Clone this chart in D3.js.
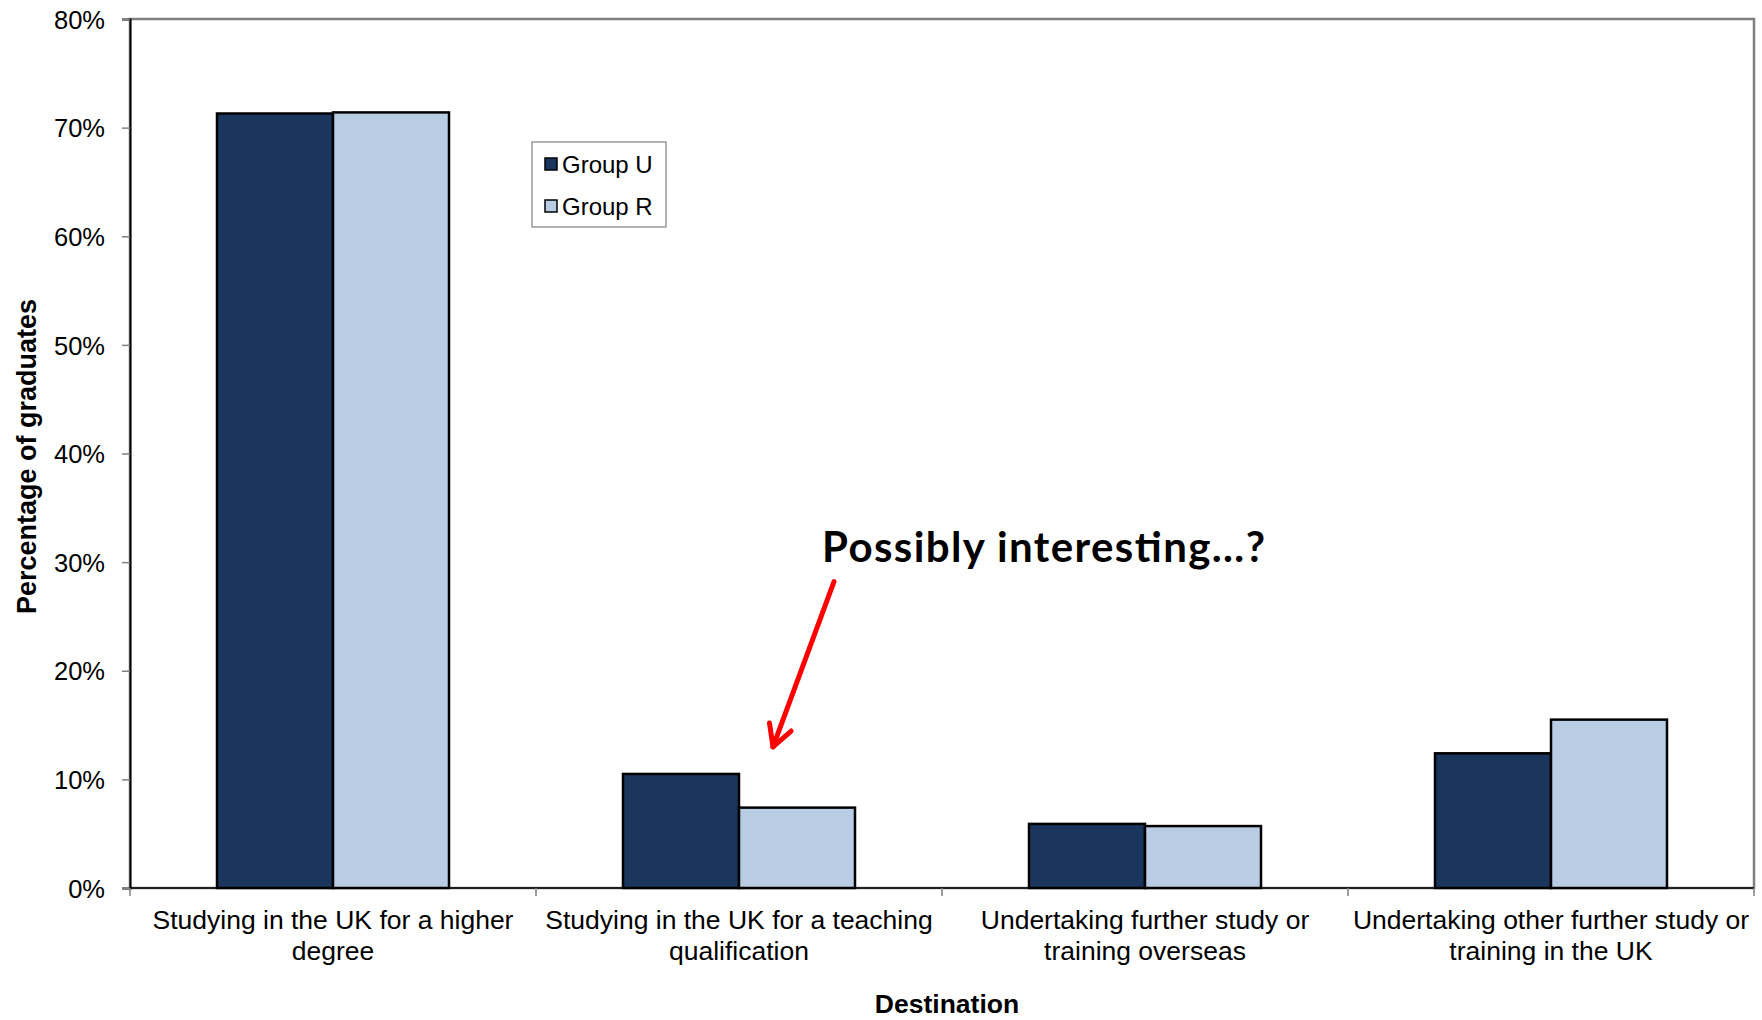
<!DOCTYPE html>
<html>
<head>
<meta charset="utf-8">
<script src="https://cdn.jsdelivr.net/npm/d3@7"></script>
<style>
  html, body { margin: 0; padding: 0; background: #fff; }
  svg { display: block; }
  text { font-family: "Liberation Sans", Arial, sans-serif; fill: #000; }
</style>
</head>
<body>
<svg id="chart" width="1762" height="1020"></svg>
<script>
// Graduate destinations, share of each group (fractions)
const categories = [
  "Studying in the UK for a higher degree",
  "Studying in the UK for a teaching qualification",
  "Undertaking further study or training overseas",
  "Undertaking other further study or training in the UK"
];
const categoryLines = [
  ["Studying in the UK for a higher", "degree"],
  ["Studying in the UK for a teaching", "qualification"],
  ["Undertaking further study or", "training overseas"],
  ["Undertaking other further study or", "training in the UK"]
];
const seriesNames = ["Group U", "Group R"];
const groupU = [0.713, 0.105, 0.059, 0.124];
const groupR = [0.714, 0.074, 0.057, 0.155];
const yTicks = [0, 0.1, 0.2, 0.3, 0.4, 0.5, 0.6, 0.7, 0.8];
const colors = ["#1A365C", "#B8CCE4"];

const svg = d3.select("#chart");
const margin = { left: 130, right: 8, top: 19, bottom: 132 };
const W = 1762, H = 1020;
const plotL = margin.left, plotR = W - margin.right;
const plotT = margin.top, plotB = H - margin.bottom;

const x0 = d3.scaleBand().domain(categories).range([plotL, plotR]).padding(0);
const x1 = d3.scaleBand().domain(seriesNames).range([0, x0.bandwidth()])
  .paddingInner(0).paddingOuter(0.75);
const y = d3.scaleLinear().domain([0, 0.8]).range([plotB, plotT]);

// Plot area frame
svg.append("rect")
  .attr("x", plotL).attr("y", plotT)
  .attr("width", plotR - plotL).attr("height", plotB - plotT)
  .attr("fill", "none").attr("stroke", "#808080").attr("stroke-width", 2.5);

// Bars
const rows = categories.map((c, i) => ({ cat: c, values: [groupU[i], groupR[i]] }));
const g = svg.append("g");
g.selectAll("g.cat").data(rows).join("g")
  .attr("class", "cat")
  .attr("transform", d => `translate(${x0(d.cat)},0)`)
  .selectAll("rect")
  .data(d => d.values.map((v, j) => ({ name: seriesNames[j], v, j })))
  .join("rect")
  .attr("x", d => x1(d.name))
  .attr("width", x1.bandwidth())
  .attr("y", d => y(d.v))
  .attr("height", d => y(0) - y(d.v))
  .attr("fill", d => colors[d.j])
  .attr("stroke", "#000").attr("stroke-width", 2.5);

// Y axis
const yAxis = d3.axisLeft(y).tickValues(yTicks).tickFormat(d3.format(".0%"))
  .tickSize(8).tickPadding(17);
const ya = svg.append("g").attr("transform", `translate(${plotL},0)`).call(yAxis);
ya.select(".domain").attr("stroke", "#000").attr("stroke-width", 2);
ya.selectAll(".tick line").attr("stroke", "#808080").attr("stroke-width", 1.5);
ya.selectAll(".tick text").style("font-size", "25.5px")
  .style("font-family", "'Liberation Sans', Arial, sans-serif").attr("dy", "0.36em");

// X axis with boundary ticks
const xa = svg.append("g").attr("transform", `translate(0,${plotB})`);
xa.append("line").attr("x1", plotL).attr("x2", plotR).attr("y1", 0).attr("y2", 0)
  .attr("stroke", "#000").attr("stroke-width", 1.5);
const boundaries = categories.map(c => x0(c)).concat([x0(categories[categories.length - 1]) + x0.bandwidth()]);
xa.selectAll("line.tk").data(boundaries).join("line").attr("class", "tk")
  .attr("x1", d => d).attr("x2", d => d).attr("y1", 0).attr("y2", 8)
  .attr("stroke", "#808080").attr("stroke-width", 1.5);
xa.selectAll("text.cl").data(categories).join("text").attr("class", "cl")
  .attr("text-anchor", "middle")
  .style("font-size", "26.5px")
  .each(function(d, i) {
    const t = d3.select(this);
    categoryLines[i].forEach((line, k) => {
      t.append("tspan").attr("x", x0(d) + x0.bandwidth() / 2)
        .attr("y", 41 + k * 31).text(line);
    });
  });

// Axis titles
svg.append("text")
  .attr("x", (plotL + plotR) / 2 + 5).attr("y", 1013)
  .attr("text-anchor", "middle")
  .style("font-size", "26.5px").style("font-weight", "bold")
  .text("Destination");
svg.append("text")
  .attr("transform", `translate(36,${(plotT + plotB) / 2 + 3}) rotate(-90)`)
  .attr("text-anchor", "middle")
  .style("font-size", "27px").style("font-weight", "bold")
  .text("Percentage of graduates");

// Legend
const leg = svg.append("g").attr("transform", "translate(532,142)");
leg.append("rect").attr("width", 134).attr("height", 85)
  .attr("fill", "#fff").attr("stroke", "#808080").attr("stroke-width", 1.2);
seriesNames.forEach((name, i) => {
  const row = leg.append("g").attr("transform", `translate(13,${22 + i * 42})`);
  row.append("rect").attr("x", 0).attr("y", -6).attr("width", 12).attr("height", 12)
    .attr("fill", colors[i]).attr("stroke", "#000").attr("stroke-width", 1.5);
  row.append("text").attr("x", 17).attr("y", 0).attr("dy", "0.36em")
    .style("font-size", "24px").text(name);
});

// Annotation with arrow toward the teaching-qualification pair
const ann = svg.append("g");
const tipX = x0(categories[1]) + x0.bandwidth() / 2 + 34;
const tipY = y(0.13);
const tailX = tipX + 61, tailY = y(0.282);
ann.append("line").attr("x1", tailX).attr("y1", tailY).attr("x2", tipX).attr("y2", tipY)
  .attr("stroke", "#FF0000").attr("stroke-width", 5).attr("stroke-linecap", "round");
const ang = Math.atan2(tipY - tailY, tipX - tailX);
[0.5, -0.5].forEach(da => {
  const a = ang + Math.PI + da;
  ann.append("line")
    .attr("x1", tipX).attr("y1", tipY)
    .attr("x2", tipX + 24 * Math.cos(a)).attr("y2", tipY + 24 * Math.sin(a))
    .attr("stroke", "#FF0000").attr("stroke-width", 5).attr("stroke-linecap", "round");
});
ann.append("text")
  .attr("x", 822).attr("y", 562)
  .attr("textLength", 443).attr("lengthAdjust", "spacing")
  .style("font-family", "Lato, 'Open Sans', sans-serif")
  .style("font-size", "42px").style("font-weight", "bold")
  .text("Possibly interesting…?");
</script>
</body>
</html>
